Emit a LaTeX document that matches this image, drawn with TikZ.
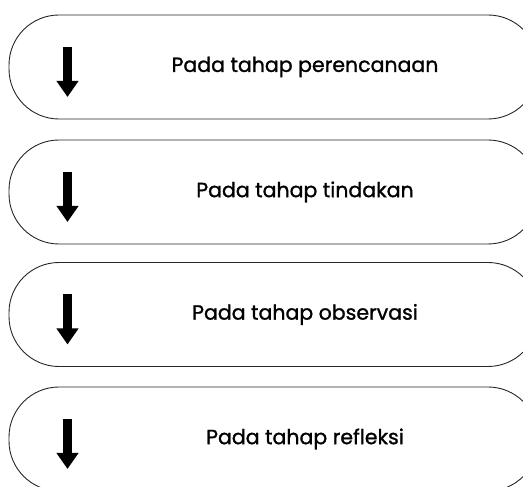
\documentclass[tikz,border=0pt]{standalone}
\usepackage{fontspec}
\setmainfont{Poppins}[FakeBold=1.2]
\usetikzlibrary{arrows.meta}
\tikzset{
  pill/.style={draw=black!85, line width=0.9pt, rounded corners=50pt,
    minimum width=529pt, minimum height=104pt, inner sep=0pt},
  stage/.style={font=\fontsize{20.5}{24}\selectfont, inner sep=0pt},
  down/.style={line width=8.5pt,
    -{Triangle[width=21pt,length=16pt]}}
}
\begin{document}
\begin{tikzpicture}[x=1pt,y=1pt]
      \useasboundingbox (0,0) rectangle (523,487);
      \clip (0,0) rectangle (523,487);
      \node[pill] (b1) at (273.5,420) {};
      \node[pill] (b2) at (273.5,295) {};
      \node[pill] (b3) at (273.5,172.5) {};
      \node[pill] (b4) at (273.5,48) {};
      \node[stage] (t1) at ([xshift=31.5pt]b1.center) {Pada tahap perencanaan};
      \node[stage] (t2) at ([xshift=31.5pt]b2.center) {Pada tahap tindakan};
      \node[stage] (t3) at ([xshift=31.5pt]b3.center) {Pada tahap observasi};
      \node[stage] (t4) at ([xshift=31.5pt]b4.center) {Pada tahap refleksi};
      \coordinate (a1) at ([shift={(-206pt,20pt)}]b1.center);
      \coordinate (z1) at ([shift={(-206pt,-30pt)}]b1.center);
      \coordinate (a2) at ([shift={(-206pt,20pt)}]b2.center);
      \coordinate (z2) at ([shift={(-206pt,-30pt)}]b2.center);
      \coordinate (a3) at ([shift={(-206pt,20pt)}]b3.center);
      \coordinate (z3) at ([shift={(-206pt,-30pt)}]b3.center);
      \coordinate (a4) at ([shift={(-206pt,20pt)}]b4.center);
      \coordinate (z4) at ([shift={(-206pt,-30pt)}]b4.center);
      \begin{scope}[down]
        \draw (a1) to (z1);
        \draw (a2) to (z2);
        \draw (a3) to (z3);
        \draw (a4) to (z4);
      \end{scope}
    \end{tikzpicture}
\end{document}
